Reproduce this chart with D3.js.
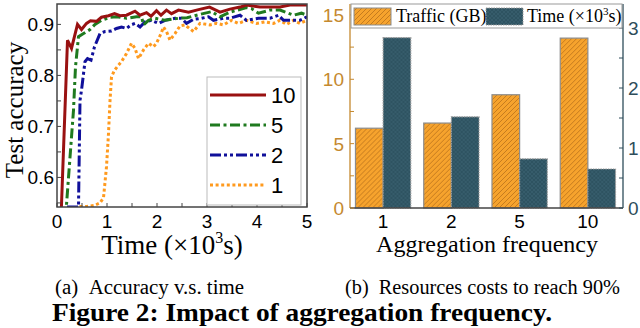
<!DOCTYPE html>
<html>
<head>
<meta charset="utf-8">
<script src="https://cdn.jsdelivr.net/npm/d3@7"></script>
<style>
  body { margin: 0; background: #fff; }
  svg { display: block; }
</style>
</head>
<body>
<svg class="chart" width="640" height="328"></svg>
<script>
// accuracy curves, [time (x10^3 s), test accuracy]
const acc10 = [[0.08,0.52],[0.21,0.869],[0.29,0.853],[0.41,0.90],[0.49,0.89],[0.59,0.902],[0.67,0.907],[0.79,0.906],[0.89,0.914],[1.03,0.917],[1.15,0.921],[1.26,0.917],[1.39,0.918],[1.56,0.926],[1.66,0.918],[1.79,0.923],[1.88,0.916],[1.99,0.927],[2.08,0.918],[2.19,0.928],[2.29,0.921],[2.43,0.928],[2.63,0.924],[2.83,0.929],[3.05,0.934],[3.26,0.924],[3.46,0.930],[3.66,0.934],[3.79,0.938],[4.06,0.934],[4.26,0.934],[4.46,0.934],[4.66,0.938],[5,0.938]];
const acc5 = [[0.17,0.52],[0.33,0.732],[0.37,0.817],[0.43,0.876],[0.53,0.882],[0.66,0.89],[0.76,0.90],[0.89,0.908],[1.06,0.914],[1.19,0.915],[1.39,0.912],[1.59,0.915],[1.69,0.915],[1.73,0.899],[1.83,0.908],[1.96,0.912],[2.16,0.908],[2.43,0.912],[2.6,0.913],[2.79,0.918],[3.09,0.925],[3.26,0.915],[3.46,0.924],[3.79,0.933],[3.89,0.931],[4.03,0.922],[4.26,0.928],[4.46,0.928],[4.73,0.918],[4.89,0.922],[5,0.918]];
const acc2 = [[0.2,0.542],[0.43,0.542],[0.46,0.751],[0.49,0.771],[0.56,0.827],[0.61,0.833],[0.68,0.83],[0.75,0.856],[0.86,0.882],[0.96,0.886],[1.09,0.887],[1.19,0.892],[1.29,0.895],[1.39,0.892],[1.48,0.899],[1.56,0.902],[1.66,0.895],[1.76,0.905],[1.89,0.908],[2.03,0.902],[2.16,0.908],[2.36,0.912],[2.49,0.912],[2.59,0.902],[2.73,0.91],[2.89,0.912],[3.03,0.915],[3.13,0.908],[3.33,0.912],[3.46,0.912],[3.66,0.918],[3.79,0.908],[4.03,0.912],[4.26,0.912],[4.43,0.918],[4.53,0.908],[4.86,0.908],[5,0.915]];
const acc1 = [[0.45,0.543],[0.6,0.543],[0.75,0.545],[0.86,0.55],[0.93,0.56],[0.99,0.621],[1.03,0.686],[1.06,0.75],[1.09,0.797],[1.15,0.81],[1.23,0.82],[1.29,0.827],[1.39,0.843],[1.49,0.863],[1.56,0.853],[1.63,0.833],[1.73,0.85],[1.83,0.863],[1.93,0.856],[1.99,0.863],[2.08,0.882],[2.13,0.895],[2.19,0.886],[2.26,0.869],[2.36,0.882],[2.46,0.897],[2.56,0.899],[2.73,0.886],[2.86,0.902],[3.06,0.899],[3.19,0.902],[3.33,0.899],[3.49,0.908],[3.63,0.902],[3.79,0.908],[3.99,0.902],[4.16,0.905],[4.33,0.902],[4.46,0.908],[4.59,0.90],[4.73,0.908],[4.86,0.902],[5,0.908]];

const seriesNames = ["10", "5", "2", "1"];
const xTicksA = [0, 1, 2, 3, 4, 5];
const yTicksA = [0.6, 0.7, 0.8, 0.9];

// resource costs
const freqs = ["1", "2", "5", "10"];
const traffic = [6.2, 6.6, 8.8, 13.2];      // GB
const timeCost = [2.84, 1.52, 0.82, 0.65];  // x10^3 s
const trafficTicks = [0, 5, 10, 15];
const timeTicks = [0, 1, 2, 3];

const SANS = "'Liberation Sans', Arial, Helvetica, sans-serif";
const SERIF = "'Liberation Serif', 'Times New Roman', Times, serif";

const svg = d3.select(".chart");
const defs = svg.append("defs");

// ---------- (a) accuracy vs time ----------
const pa = { left: 57, right: 307, top: 4, bottom: 207 };
const xA = d3.scaleLinear().domain([0, 5]).range([pa.left, pa.right]);
const yA = d3.scaleLinear().domain([0.542, 0.94]).range([pa.bottom, pa.top]);

defs.append("clipPath").attr("id", "clipA")
  .append("rect")
  .attr("x", pa.left).attr("y", pa.top)
  .attr("width", pa.right - pa.left).attr("height", pa.bottom - pa.top);

const styles = {
  "10": { color: "#991111", dash: null },
  "5": { color: "#1f7a1f", dash: "10,3.5,3,3.5" },
  "2": { color: "#10109a", dash: "11,3,3,3,3,3" },
  "1": { color: "#ff9a1e", dash: "3,2.6" }
};
const seriesData = { "10": acc10, "5": acc5, "2": acc2, "1": acc1 };

const line = d3.line().x((d) => xA(d[0])).y((d) => yA(d[1]));

const gLines = svg.append("g").attr("clip-path", "url(#clipA)");
["1", "2", "5", "10"].forEach((k) => {
  gLines.append("path")
    .datum(seriesData[k])
    .attr("d", line)
    .attr("fill", "none")
    .attr("stroke", styles[k].color)
    .attr("stroke-width", 3)
    .attr("stroke-dasharray", styles[k].dash);
});

// inward ticks
const axA = svg.append("g").attr("stroke", "#444").attr("stroke-width", 1);
d3.range(0, 5.01, 0.5).forEach((t) => {
  axA.append("line").attr("x1", xA(t)).attr("x2", xA(t))
    .attr("y1", pa.bottom).attr("y2", pa.bottom - 4);
});
d3.range(0.55, 0.94, 0.05).forEach((t) => {
  axA.append("line").attr("x1", pa.left).attr("x2", pa.left + 4)
    .attr("y1", yA(t)).attr("y2", yA(t));
});
svg.append("rect")
  .attr("x", pa.left).attr("y", pa.top)
  .attr("width", pa.right - pa.left).attr("height", pa.bottom - pa.top)
  .attr("fill", "none").attr("stroke", "#444").attr("stroke-width", 1.5);

svg.append("g").selectAll("text").data(xTicksA).join("text")
  .attr("font-family", SANS)
  .attr("x", (d) => xA(d)).attr("y", 228)
  .attr("text-anchor", "middle").attr("font-size", 19)
  .text((d) => d);
svg.append("g").selectAll("text").data(yTicksA).join("text")
  .attr("font-family", SANS)
  .attr("x", 54).attr("y", (d) => yA(d) + 7)
  .attr("text-anchor", "end").attr("font-size", 19)
  .text((d) => d3.format(".1f")(d));

svg.append("text").attr("font-family", SERIF)
  .attr("transform", "translate(23,110) rotate(-90)")
  .attr("text-anchor", "middle").attr("font-size", 25)
  .text("Test accuracy");

const xTitleA = svg.append("text").attr("font-family", SERIF)
  .attr("x", 172).attr("y", 254)
  .attr("text-anchor", "middle").attr("font-size", 27);
xTitleA.append("tspan").text("Time (×10");
xTitleA.append("tspan").attr("font-size", 16).attr("dy", -11).text("3");
xTitleA.append("tspan").attr("dy", 11).text("s)");

// legend
const lg = svg.append("g");
lg.append("rect").attr("x", 207).attr("y", 77).attr("width", 94).attr("height", 128)
  .attr("fill", "#fff").attr("stroke", "#bbb").attr("stroke-width", 1);
seriesNames.forEach((k, i) => {
  const y = 95 + i * 30;
  lg.append("line").attr("x1", 210).attr("x2", 266).attr("y1", y).attr("y2", y)
    .attr("stroke", styles[k].color).attr("stroke-width", 3)
    .attr("stroke-dasharray", styles[k].dash);
  lg.append("text").attr("font-family", SANS)
    .attr("x", 271).attr("y", y + 8).attr("font-size", 22).text(k);
});

// ---------- (b) resource costs ----------
const pb = { left: 350, right: 623, top: 4, bottom: 208 };
const x0 = d3.scaleBand().domain(freqs).range([349, 622])
  .paddingInner(0.19).paddingOuter(0.095);
const x1 = d3.scaleBand().domain(["traffic", "time"]).range([0, x0.bandwidth()]);
const yL = d3.scaleLinear().domain([0, 15.85]).range([pb.bottom, pb.top]);
const yR = d3.scaleLinear().domain([0, 3.4]).range([pb.bottom, pb.top]);

const hatch = defs.append("pattern").attr("id", "hatch")
  .attr("patternUnits", "userSpaceOnUse").attr("width", 5).attr("height", 5);
hatch.append("rect").attr("width", 5).attr("height", 5).attr("fill", "#f6a32d");
hatch.append("path").attr("d", "M-1,1 l2,-2 M0,5 l5,-5 M4,6 l2,-2")
  .attr("stroke", "#b8711c").attr("stroke-width", 0.8);

const cross = defs.append("pattern").attr("id", "cross")
  .attr("patternUnits", "userSpaceOnUse").attr("width", 4).attr("height", 4);
cross.append("rect").attr("width", 4).attr("height", 4).attr("fill", "#2e5361");
cross.append("path").attr("d", "M0,0 l4,4 M4,0 l-4,4")
  .attr("stroke", "#3b6272").attr("stroke-width", 0.6);

const barRows = freqs.map((f, i) => ({ f, traffic: traffic[i], time: timeCost[i] }));

const groups = svg.append("g").selectAll("g").data(barRows).join("g")
  .attr("transform", (d) => `translate(${x0(d.f)},0)`);
groups.append("rect")
  .attr("x", x1("traffic")).attr("width", x1.bandwidth())
  .attr("y", (d) => yL(d.traffic)).attr("height", (d) => yL(0) - yL(d.traffic))
  .attr("fill", "url(#hatch)").attr("stroke", "#8c8c8c").attr("stroke-width", 1.2);
groups.append("rect")
  .attr("x", x1("time")).attr("width", x1.bandwidth())
  .attr("y", (d) => yR(d.time)).attr("height", (d) => yR(0) - yR(d.time))
  .attr("fill", "url(#cross)").attr("stroke", "#9a9a9a").attr("stroke-width", 1.2)
  .attr("stroke-dasharray", "1.5,1");

// axes
const leftCol = "#c5892f";
const rightCol = "#2e4d5a";
const axB = svg.append("g");
axB.append("line").attr("x1", pb.left).attr("x2", pb.left)
  .attr("y1", pb.top).attr("y2", pb.bottom)
  .attr("stroke", leftCol).attr("stroke-width", 1.3);
axB.append("line").attr("x1", pb.right).attr("x2", pb.right)
  .attr("y1", pb.top).attr("y2", pb.bottom)
  .attr("stroke", rightCol).attr("stroke-width", 1.3);
axB.append("line").attr("x1", pb.left).attr("x2", pb.right)
  .attr("y1", pb.bottom).attr("y2", pb.bottom)
  .attr("stroke", "#444").attr("stroke-width", 1.3);

d3.range(0, 15.1, 2.5).forEach((t) => {
  axB.append("line").attr("x1", pb.left).attr("x2", pb.left + 4)
    .attr("y1", yL(t)).attr("y2", yL(t)).attr("stroke", leftCol);
});
d3.range(0, 3.1, 0.5).forEach((t) => {
  axB.append("line").attr("x1", pb.right).attr("x2", pb.right - 4)
    .attr("y1", yR(t)).attr("y2", yR(t)).attr("stroke", rightCol);
});

svg.append("g").selectAll("text").data(trafficTicks).join("text")
  .attr("font-family", SANS)
  .attr("x", 344).attr("y", (d) => yL(d) + 7)
  .attr("text-anchor", "end").attr("font-size", 19).attr("fill", leftCol)
  .text((d) => d);
svg.append("g").selectAll("text").data(timeTicks).join("text")
  .attr("font-family", SANS)
  .attr("x", 628).attr("y", (d) => yR(d) + 7)
  .attr("font-size", 19).attr("fill", rightCol)
  .text((d) => d);
svg.append("g").selectAll("text").data(freqs).join("text")
  .attr("font-family", SANS)
  .attr("x", (d) => x0(d) + x0.bandwidth() / 2).attr("y", 228)
  .attr("text-anchor", "middle").attr("font-size", 19)
  .text((d) => d);

svg.append("text").attr("font-family", SERIF)
  .attr("x", 487).attr("y", 252)
  .attr("text-anchor", "middle").attr("font-size", 24)
  .text("Aggregation frequency");

// legend (b)
const lb = svg.append("g");
lb.append("rect").attr("x", 351).attr("y", 4).attr("width", 271).attr("height", 24)
  .attr("fill", "#fff").attr("stroke", "#999").attr("stroke-width", 1);
lb.append("rect").attr("x", 354).attr("y", 8).attr("width", 37).attr("height", 17)
  .attr("fill", "url(#hatch)").attr("stroke", "#8c8c8c");
lb.append("text").attr("font-family", SERIF).attr("x", 396).attr("y", 22)
  .attr("font-size", 18).text("Traffic (GB)");
lb.append("rect").attr("x", 486).attr("y", 8).attr("width", 37).attr("height", 17)
  .attr("fill", "url(#cross)").attr("stroke", "#9a9a9a").attr("stroke-dasharray", "1.5,1");
const lt = lb.append("text").attr("font-family", SERIF).attr("x", 527).attr("y", 22)
  .attr("font-size", 18);
lt.append("tspan").text("Time (×10");
lt.append("tspan").attr("font-size", 11).attr("dy", -7).text("3");
lt.append("tspan").attr("dy", 7).text("s)");

// ---------- captions ----------
svg.append("text").attr("font-family", SERIF)
  .attr("x", 55).attr("y", 294).attr("font-size", 20)
  .attr("textLength", 189).attr("lengthAdjust", "spacingAndGlyphs")
  .text("(a)\u2002Accuracy v.s. time");
svg.append("text").attr("font-family", SERIF)
  .attr("x", 345).attr("y", 294).attr("font-size", 20)
  .attr("textLength", 275).attr("lengthAdjust", "spacingAndGlyphs")
  .text("(b)\u2002Resources costs to reach 90%");
svg.append("text").attr("font-family", SERIF)
  .attr("x", 52).attr("y", 321).attr("font-size", 25).attr("font-weight", "bold")
  .attr("textLength", 500).attr("lengthAdjust", "spacingAndGlyphs")
  .text("Figure 2: Impact of aggregation frequency.");
</script>
</body>
</html>
